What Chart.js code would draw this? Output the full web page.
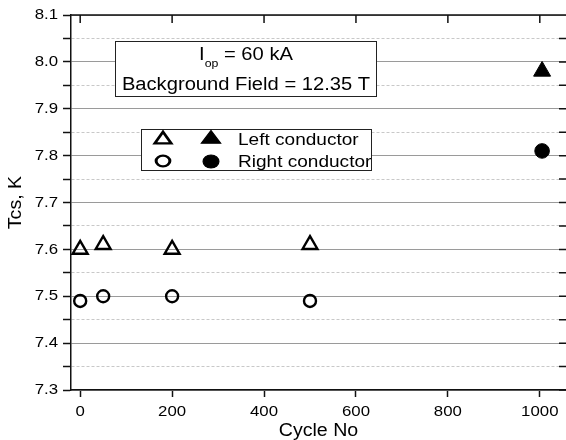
<!DOCTYPE html>
<html><head>
<meta charset="utf-8">
<script src="https://cdn.jsdelivr.net/npm/chart.js@4"></script>
<style>html,body{margin:0;padding:0;background:#fff}</style>
</head><body>
<canvas id="c" width="566" height="440"></canvas>
<script>
// ---- data ----
const leftOpenX = [0, 50, 200, 500];
const leftOpenY = [7.60, 7.61, 7.60, 7.61];
const leftFilledX = [1005];
const leftFilledY = [7.98];
const rightOpenX = [0, 50, 200, 500];
const rightOpenY = [7.49, 7.50, 7.50, 7.49];
const rightFilledX = [1005];
const rightFilledY = [7.81];
const xTickValues = [0, 200, 400, 600, 800, 1000];
const legendLabels = ['Left conductor', 'Right conductor'];
const noteLine1 = ['I', 'op', ' = 60 kA'];
const noteLine2 = 'Background Field = 12.35 T';
const xTitle = 'Cycle No';
const yTitle = 'Tcs, K';

const FONT = "'Liberation Sans', Arial, sans-serif";
const SX = 1.12; // horizontal text stretch seen in the reference
const pts = (xs, ys) => xs.map((x, i) => ({x: x, y: ys[i]}));
const isMajor = v => Math.abs(Math.round(v * 100) % 10) === 0;

const canvas = document.getElementById('c');
const ctx0 = canvas.getContext('2d');
const origFill = ctx0.fillText.bind(ctx0);
ctx0.fillText = function (t, x, y, mw) {
  this.save(); this.translate(x, y); this.scale(SX, 1);
  if (mw === undefined) origFill(t, 0, 0); else origFill(t, 0, 0, mw);
  this.restore();
};

function marker(ctx, style, r, bw, fill, x, y, sx) {
  ctx.save();
  ctx.translate(x, y); ctx.scale(sx, 1);
  ctx.fillStyle = fill; ctx.strokeStyle = '#000'; ctx.lineWidth = bw;
  Chart.helpers.drawPoint(ctx, {pointStyle: style, radius: r, borderWidth: bw, rotation: 0}, 0, 0);
  ctx.restore();
}

const frame = {
  id: 'frame',
  afterDraw(chart) {
    const {ctx, chartArea: a, scales} = chart;
    ctx.save();
    ctx.strokeStyle = '#111';
    ctx.lineWidth = 1.5;
    ctx.beginPath();
    ctx.moveTo(a.left, a.top); ctx.lineTo(a.right, a.top);
    xTickValues.forEach(v => {
      const px = scales.x.getPixelForValue(v);
      ctx.moveTo(px, a.top); ctx.lineTo(px, a.top + 8);
    });
    scales.y.ticks.forEach(t => {
      const py = scales.y.getPixelForValue(t.value);
      ctx.moveTo(a.right - 7, py); ctx.lineTo(a.right, py);
    });
    ctx.stroke();

    // note box
    ctx.fillStyle = '#fff';
    ctx.fillRect(115, 41, 262, 56);
    ctx.strokeStyle = '#222';
    ctx.lineWidth = 1;
    ctx.strokeRect(115.5, 41.5, 261, 55);
    ctx.fillStyle = '#000';
    ctx.textBaseline = 'alphabetic';
    ctx.textAlign = 'left';
    ctx.font = '18px ' + FONT;
    const w1 = ctx.measureText(noteLine1[0]).width * SX;
    ctx.font = '11px ' + FONT;
    const w2 = ctx.measureText(noteLine1[1]).width * SX;
    ctx.font = '18px ' + FONT;
    const w3 = ctx.measureText(noteLine1[2]).width * SX;
    const sx = 246 - (w1 + w2 + w3) / 2;
    ctx.fillText(noteLine1[0], sx, 60);
    ctx.font = '11px ' + FONT;
    ctx.fillText(noteLine1[1], sx + w1, 67);
    ctx.font = '18px ' + FONT;
    ctx.fillText(noteLine1[2], sx + w1 + w2, 60);
    ctx.textAlign = 'center';
    ctx.fillText(noteLine2, 246, 90);

    // legend box
    ctx.fillStyle = '#fff';
    ctx.fillRect(141, 129, 231, 42);
    ctx.strokeStyle = '#222';
    ctx.strokeRect(141.5, 129.5, 230, 41);
    marker(ctx, 'triangle', 7.6, 2.3, 'rgba(0,0,0,0)', 163, 139.5, 1.25);
    marker(ctx, 'triangle', 8.6, 1, '#000', 211, 139, 1.3);
    marker(ctx, 'circle', 5.3, 2.3, 'rgba(0,0,0,0)', 163, 161, 1.3);
    marker(ctx, 'circle', 6.6, 1, '#000', 211, 161.5, 1.2);
    ctx.fillStyle = '#000';
    ctx.textAlign = 'left';
    ctx.textBaseline = 'alphabetic';
    ctx.font = '17px ' + FONT;
    ctx.fillText(legendLabels[0], 238, 145);
    ctx.fillText(legendLabels[1], 238, 167);
    ctx.restore();
  }
};

new Chart(ctx0, {
  type: 'scatter',
  data: {
    datasets: [
      {label: 'Left open', data: pts(leftOpenX, leftOpenY), pointStyle: 'triangle', pointRadius: 8.6, borderWidth: 2.4, borderColor: '#000', backgroundColor: 'rgba(255,255,255,0)'},
      {label: 'Left filled', data: pts(leftFilledX, leftFilledY), pointStyle: 'triangle', pointRadius: 9.8, borderWidth: 1, borderColor: '#000', backgroundColor: '#000'},
      {label: 'Right open', data: pts(rightOpenX, rightOpenY), pointStyle: 'circle', pointRadius: 6, borderWidth: 2.4, borderColor: '#000', backgroundColor: 'rgba(255,255,255,0)'},
      {label: 'Right filled', data: pts(rightFilledX, rightFilledY), pointStyle: 'circle', pointRadius: 7.3, borderWidth: 1, borderColor: '#000', backgroundColor: '#000'}
    ]
  },
  options: {
    responsive: false,
    animation: false,
    devicePixelRatio: 1,
    layout: {autoPadding: false, padding: {left: 0, right: 0, top: 15, bottom: 0}},
    plugins: {legend: {display: false}, tooltip: {enabled: false}},
    scales: {
      x: {
        type: 'linear', min: -20, max: 1057,
        afterFit: s => { s.height = 50; s.paddingLeft = 0; s.paddingRight = 0; },
        afterBuildTicks: s => { s.ticks = xTickValues.map(v => ({value: v})); },
        ticks: {font: {family: FONT, size: 15}, color: '#000', padding: 6, maxRotation: 0,
          callback: v => String(v)},
        grid: {drawOnChartArea: false, drawTicks: true, tickLength: 7, tickColor: '#111', tickWidth: 1.5},
        border: {color: '#111', width: 1.5},
        title: {display: true, text: xTitle, font: {family: FONT, size: 17.5, lineHeight: 1}, color: '#000', padding: {top: 0, bottom: 0}}
      },
      y: {
        min: 7.3, max: 8.1,
        afterFit: s => { s.width = 71; s.paddingTop = 0; s.paddingBottom = 0; },
        ticks: {stepSize: 0.05, autoSkip: false, font: {family: FONT, size: 15}, color: '#000', padding: 5,
          callback: v => isMajor(v) ? v.toFixed(1) : ''},
        grid: {
          color: c => (c.tick && isMajor(c.tick.value)) ? '#9a9a9a' : '#c8c8c8',
          lineWidth: 1, tickLength: 8, tickColor: '#111', tickWidth: 1.5
        },
        border: {color: '#111', width: 1.5, dash: c => (c.tick && !isMajor(c.tick.value)) ? [3, 2] : []},
        title: {display: true, text: yTitle, font: {family: FONT, size: 17.5, lineHeight: 1}, color: '#000', padding: {top: 7, bottom: 0}}
      }
    }
  },
  plugins: [frame]
});
</script>
</body></html>
